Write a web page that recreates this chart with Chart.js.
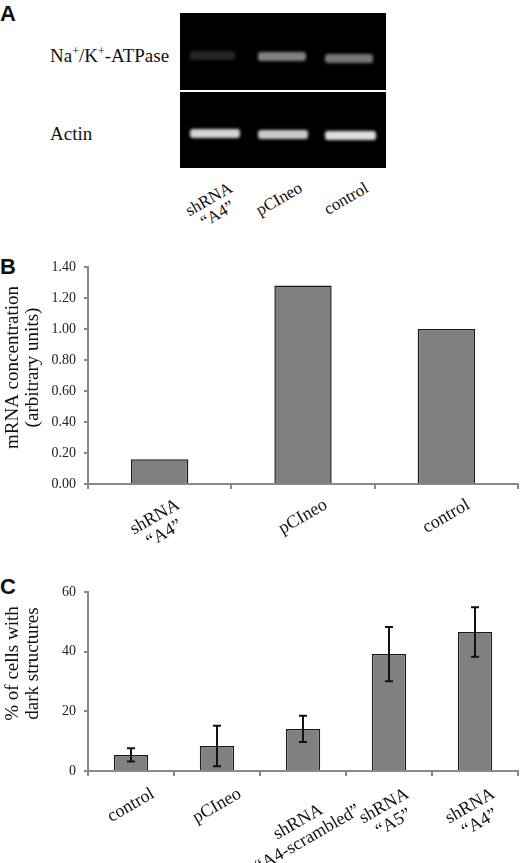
<!DOCTYPE html>
<html lang="en">
<head>
<meta charset="UTF-8">
<title>Na+/K+-ATPase knockdown</title>
<script src="https://cdn.jsdelivr.net/npm/chart.js"></script>
<style>
  body { margin: 0; background: #fff; }
  #wrap { position: relative; width: 520px; height: 863px; font-family: "Liberation Serif", serif; color: #111; }
  .letter { position: absolute; left: 0; font: bold 22px "Liberation Sans", Arial, sans-serif; line-height: 1; }
  .gel { position: absolute; left: 180px; width: 206px; background: #000; overflow: hidden; }
  .band { position: absolute; height: 9px; border-radius: 3px; filter: blur(1.4px); }
  .rowlab { position: absolute; left: 50px; font-size: 19px; line-height: 1; }
  .rowlab sup { font-size: 12px; vertical-align: 7px; }
  .lane { position: absolute; left: 0; top: 0; font-size: 17px; line-height: 17px; text-align: center; white-space: nowrap; }
  .box { position: absolute; left: 0; width: 520px; }
</style>
</head>
<body>
<div id="wrap">
  <div class="letter" style="top:3px">A</div>
  <div class="letter" style="top:256px">B</div>
  <div class="letter" style="top:576px">C</div>

  <div class="gel" id="gelTop" style="top:13px;height:77px"></div>
  <div class="gel" id="gelBottom" style="top:92px;height:76px"></div>
  <div class="rowlab" style="top:45px">Na<sup>+</sup>/K<sup>+</sup>-ATPase</div>
  <div class="rowlab" style="top:124px">Actin</div>

  <div class="box" style="top:250px;height:325px"><canvas id="chartB"></canvas></div>
  <div class="box" style="top:575px;height:288px"><canvas id="chartC"></canvas></div>
</div>

<script>
    // panel A: gel lanes and band brightness (0..1)
    const gelLanes = [['shRNA', '\u201cA4\u201d'], 'pCIneo', 'control'];
    const nakBands = [0.16, 0.55, 0.5];
    const actinBands = [0.9, 0.86, 0.95];

    // panel B: mRNA concentration
    const mrnaLabels = [['shRNA', '\u201cA4\u201d'], 'pCIneo', 'control'];
    const mrnaValues = [0.16, 1.28, 1.0];
    const mrnaTicks = [0, 0.2, 0.4, 0.6, 0.8, 1.0, 1.2, 1.4];

    // panel C: % of cells with dark structures
    const darkLabels = ['control', 'pCIneo', ['shRNA', '\u201cA4-scrambled\u201d'], ['shRNA', '\u201cA5\u201d'], ['shRNA', '\u201cA4\u201d']];
    const darkValues = [5.4, 8.4, 14.1, 39.2, 46.6];
    const darkErrors = [2.2, 6.8, 4.4, 9.1, 8.3];

    const SLANT = 30 * Math.PI / 180;
    const measure = document.createElement('canvas').getContext('2d');

    // height of the glyph box of a slanted multi-line label
    function slantBox(lines, size, lh) {
        measure.font = size + 'px "Liberation Serif"';
        const w = Math.max(...lines.map(l => measure.measureText(l).width));
        const h = (lines.length - 1) * lh + 0.72 * size;
        return w * Math.sin(SLANT) + h * Math.cos(SLANT);
    }

    // draw the gel
    const laneX = [10, 78, 145];
    const nakY = [38, 39, 41];
    const actinY = [37, 38, 39];
    function addBands(gelId, vals, ys, w) {
        const gel = document.getElementById(gelId);
        vals.forEach((v, i) => {
            const b = document.createElement('div');
            b.className = 'band';
            b.style.left = laneX[i] + 'px';
            b.style.width = w[i] + 'px';
            b.style.top = ys[i] + 'px';
            b.style.background = 'rgba(235,235,235,' + v + ')';
            gel.appendChild(b);
        });
    }
    addBands('gelTop', nakBands, nakY, [45, 48, 48]);
    addBands('gelBottom', actinBands, actinY, [50, 50, 51]);

    // slanted lane labels under the gel
    const wrap = document.getElementById('wrap');
    const laneCenters = [213, 279, 346];
    gelLanes.forEach((lab, i) => {
        const lines = [].concat(lab);
        const bh = slantBox(lines, 17, 17);
        const d = document.createElement('div');
        d.className = 'lane';
        d.innerHTML = lines.join('<br>');
        d.style.transform = 'translate(' + laneCenters[i] + 'px,' + (181 + bh / 2) + 'px) translate(-50%,-50%) rotate(-30deg)';
        wrap.appendChild(d);
    });

    // x labels drawn slanted and centred on each category, like the original
    const slantLabels = {
        id: 'slantLabels',
        afterDraw(chart, args, opts) {
            const xs = chart.scales.x, ctx = chart.ctx;
            ctx.save();
            ctx.font = opts.size + 'px "Liberation Serif"';
            ctx.fillStyle = '#111';
            ctx.textAlign = 'center';
            ctx.textBaseline = 'middle';
            chart.data.labels.forEach((lab, i) => {
                const lines = [].concat(lab);
                const bh = slantBox(lines, opts.size, opts.lineHeight);
                const cx = xs.getPixelForTick(i);
                const cy = chart.chartArea.bottom + opts.gap + bh / 2;
                ctx.save();
                ctx.translate(cx, cy);
                ctx.rotate(-SLANT);
                lines.forEach((l, k) => ctx.fillText(l, 0, (k - (lines.length - 1) / 2) * opts.lineHeight));
                ctx.restore();
            });
            ctx.restore();
        }
    };

    // two-line y axis title, sitting a little above the axis middle as in the original
    const yTitle = {
        id: 'yTitle',
        afterDraw(chart, args, opts) {
            const ctx = chart.ctx, area = chart.chartArea;
            const cy = (area.top + area.bottom) / 2 + opts.shift;
            ctx.save();
            ctx.font = '19px "Liberation Serif"';
            ctx.fillStyle = '#111';
            ctx.textAlign = 'center';
            ctx.textBaseline = 'middle';
            opts.text.forEach((t, k) => {
                ctx.save();
                ctx.translate(13 + k * 20, cy);
                ctx.rotate(-Math.PI / 2);
                ctx.fillText(t, 0, 0);
                ctx.restore();
            });
            ctx.restore();
        }
    };

    const errorBars = {
        id: 'errorBars',
        afterDatasetsDraw(chart, args, opts) {
            if (!opts.errors) return;
            const ys = chart.scales.y, ctx = chart.ctx;
            const meta = chart.getDatasetMeta(0);
            const vals = chart.data.datasets[0].data;
            ctx.save();
            ctx.strokeStyle = '#111';
            ctx.lineWidth = 2;
            meta.data.forEach((bar, i) => {
                const x = bar.x;
                const top = ys.getPixelForValue(vals[i] + opts.errors[i]);
                const bot = ys.getPixelForValue(vals[i] - opts.errors[i]);
                ctx.beginPath();
                ctx.moveTo(x, top); ctx.lineTo(x, bot);
                ctx.moveTo(x - 4, top); ctx.lineTo(x + 4, top);
                ctx.moveTo(x - 4, bot); ctx.lineTo(x + 4, bot);
                ctx.stroke();
            });
            ctx.restore();
        }
    };

    const axisGray = '#888888';
    function barChart(id, labels, values, cfg) {
        return new Chart(document.getElementById(id), {
            type: 'bar',
            data: {
                labels: labels,
                datasets: [{
                    data: values,
                    backgroundColor: '#808080',
                    borderColor: '#1a1a1a',
                    borderWidth: 1.5,
                    categoryPercentage: 1,
                    barPercentage: 0.4
                }]
            },
            options: {
                responsive: true,
                maintainAspectRatio: false,
                animation: false,
                layout: { padding: { top: 17, right: 2, left: 0, bottom: 0 } },
                plugins: {
                    legend: { display: false },
                    tooltip: { enabled: false },
                    slantLabels: { gap: cfg.gap, size: 18, lineHeight: 19 },
                    yTitle: { text: cfg.title, shift: cfg.titleShift },
                    errorBars: { errors: cfg.errors }
                },
                scales: {
                    x: {
                        grid: { display: true, drawOnChartArea: false, tickLength: 5, color: axisGray, lineWidth: 2 },
                        border: { color: axisGray, width: 2 },
                        ticks: { display: false },
                        afterFit: s => { s.height = cfg.xHeight; }
                    },
                    y: {
                        min: cfg.min, max: cfg.max,
                        afterBuildTicks: s => { s.ticks = cfg.ticks.map(v => ({ value: v })); },
                        grid: { drawOnChartArea: false, tickLength: 4, color: axisGray, lineWidth: 2 },
                        border: { color: axisGray, width: 2 },
                        ticks: {
                            padding: 8,
                            color: '#222',
                            font: { family: 'Liberation Serif', size: 14 },
                            callback: v => cfg.fmt(v)
                        },
                        afterFit: s => { s.width = 88; }
                    }
                }
            },
            plugins: [slantLabels, yTitle, errorBars]
        });
    }

    barChart('chartB', mrnaLabels, mrnaValues, {
        min: 0, max: 1.4, ticks: mrnaTicks, fmt: v => v.toFixed(2),
        title: ['mRNA concentration', '(arbitrary units)'], titleShift: -8,
        xHeight: 91, gap: 14
    });

    barChart('chartC', darkLabels, darkValues, {
        min: 0, max: 60, ticks: [0, 20, 40, 60], fmt: v => String(v),
        title: ['% of cells with', 'dark structures'], titleShift: -18,
        xHeight: 92, gap: 16, errors: darkErrors
    });
</script>
</body>
</html>
